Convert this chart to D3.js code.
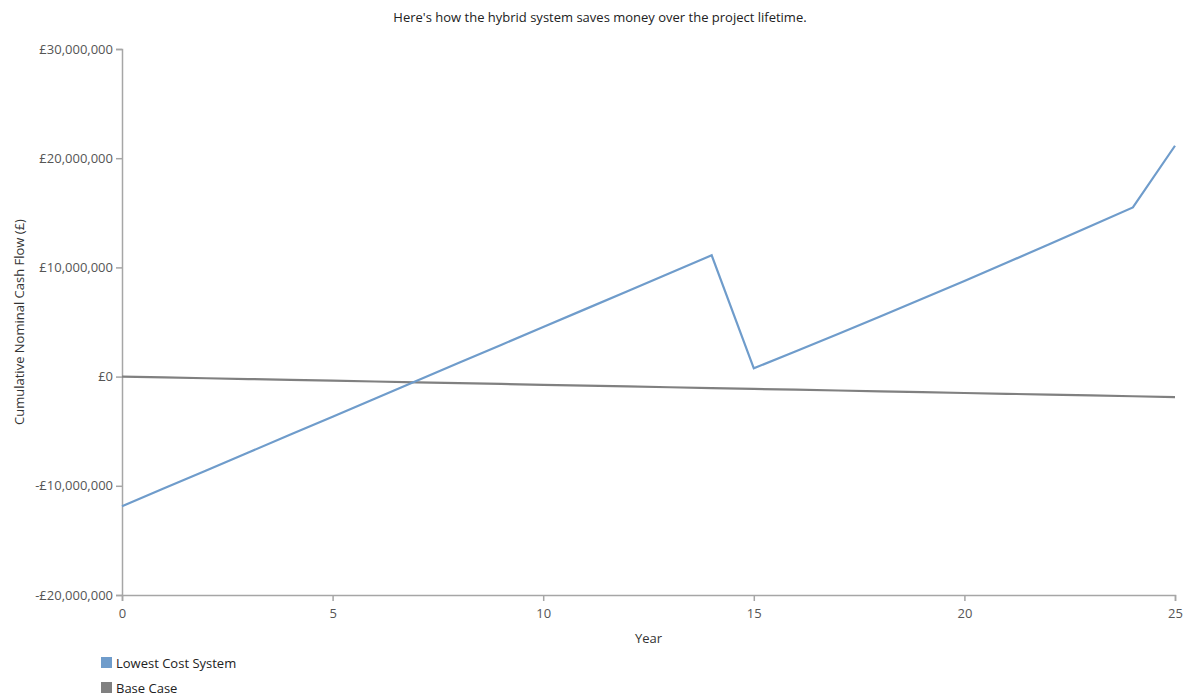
<!DOCTYPE html>
<html>
<head>
<meta charset="utf-8">
<script src="https://cdn.jsdelivr.net/npm/d3@7"></script>
<style>
  html, body { margin: 0; padding: 0; background: #fff; }
  svg { display: block; font-family: "Open Sans", "Noto Sans", sans-serif; }
</style>
</head>
<body>
<svg id="chart" width="1202" height="697"></svg>
<script>
// Project years and cumulative nominal cash flow (£) for each case
const years = [0, 1, 2, 3, 4, 5, 6, 7, 8, 9, 10, 11, 12, 13, 14, 15, 16, 17, 18, 19, 20, 21, 22, 23, 24, 25];
const lowestCost = [
  -11870000, -10230000, -8590000, -6950000, -5310000, -3670000, -2030000, -380000,
  1260000, 2900000, 4540000, 6180000, 7820000, 9470000, 11110000,
  760000, 2320000, 3900000, 5500000, 7120000, 8760000, 10420000, 12100000, 13790000, 15490000,
  21140000
];
const baseCase = [
  0, -75000, -150000, -225000, -300000, -375000, -450000, -525000, -600000, -675000,
  -750000, -825000, -900000, -975000, -1050000, -1125000, -1200000, -1275000, -1350000,
  -1425000, -1500000, -1575000, -1650000, -1725000, -1800000, -1875000
];
const seriesNames = ["Lowest Cost System", "Base Case"];
const seriesColors = ["#6f9ccb", "#808080"];
const xTicks = [0, 5, 10, 15, 20, 25];
const yTicks = [-20000000, -10000000, 0, 10000000, 20000000, 30000000];
const titleText = "Here's how the hybrid system saves money over the project lifetime.";
const xTitle = "Year";
const yTitle = "Cumulative Nominal Cash Flow (£)";

const svg = d3.select("#chart");
const margin = { left: 122, right: 27, top: 49, bottom: 102 };
const W = 1202, H = 697;
const fontSize = 13;

const x = d3.scaleLinear().domain([0, 25]).range([margin.left, W - margin.right]);
const y = d3.scaleLinear().domain([-20000000, 30000000]).range([H - margin.bottom, margin.top]);

const fmt = v => (v < 0 ? "-£" : "£") + d3.format(",")(Math.abs(v));

const axisColor = "#a6a6a6";
const textColor = "#555";

// title
svg.append("text")
  .attr("x", 600).attr("y", 22)
  .attr("text-anchor", "middle")
  .attr("font-size", fontSize).attr("fill", "#222")
  .text(titleText);

// y axis
const gy = svg.append("g")
  .attr("transform", `translate(${margin.left},0)`)
  .call(d3.axisLeft(y).tickValues(yTicks).tickFormat(fmt).tickSize(6).tickPadding(3));
gy.select(".domain").attr("stroke", axisColor).attr("stroke-width", 1.5);
gy.selectAll(".tick line").attr("stroke", axisColor).attr("stroke-width", 1.5);
gy.selectAll(".tick text").attr("font-size", fontSize).attr("fill", textColor)
  .attr("font-family", "\"Open Sans\", sans-serif");

// x axis
const gx = svg.append("g")
  .attr("transform", `translate(0,${H - margin.bottom})`)
  .call(d3.axisBottom(x).tickValues(xTicks).tickFormat(d3.format("d")).tickSize(6).tickPadding(8));
gx.select(".domain").attr("stroke", axisColor).attr("stroke-width", 1.5);
gx.selectAll(".tick line").attr("stroke", axisColor).attr("stroke-width", 1.5);
gx.selectAll(".tick text").attr("font-size", fontSize).attr("fill", textColor)
  .attr("font-family", "\"Open Sans\", sans-serif");

// axis titles
svg.append("text")
  .attr("x", (x(0) + x(25)) / 2).attr("y", 643)
  .attr("text-anchor", "middle")
  .attr("font-size", fontSize).attr("fill", "#333")
  .text(xTitle);

svg.append("text")
  .attr("transform", `translate(24,${(y(30000000) + y(-20000000)) / 2}) rotate(-90)`)
  .attr("text-anchor", "middle")
  .attr("font-size", fontSize).attr("fill", "#333")
  .text(yTitle);

// lines
const line = d3.line()
  .x((d, i) => x(years[i]))
  .y(d => y(d));

const seriesData = [lowestCost, baseCase];
// draw base case first so the blue line sits on top where they cross
[1, 0].forEach(k => {
  svg.append("path")
    .datum(seriesData[k])
    .attr("fill", "none")
    .attr("stroke", seriesColors[k])
    .attr("stroke-width", 2.2)
    .attr("stroke-linejoin", "miter")
    .attr("d", line);
});

// legend
const legend = svg.append("g");
seriesNames.forEach((name, i) => {
  const gy0 = 657 + i * 25;
  legend.append("rect")
    .attr("x", 101).attr("y", gy0)
    .attr("width", 11).attr("height", 11)
    .attr("fill", seriesColors[i]);
  legend.append("text")
    .attr("x", 116).attr("y", gy0 + 11)
    .attr("font-size", fontSize).attr("fill", "#222")
    .text(name);
});
</script>
</body>
</html>
